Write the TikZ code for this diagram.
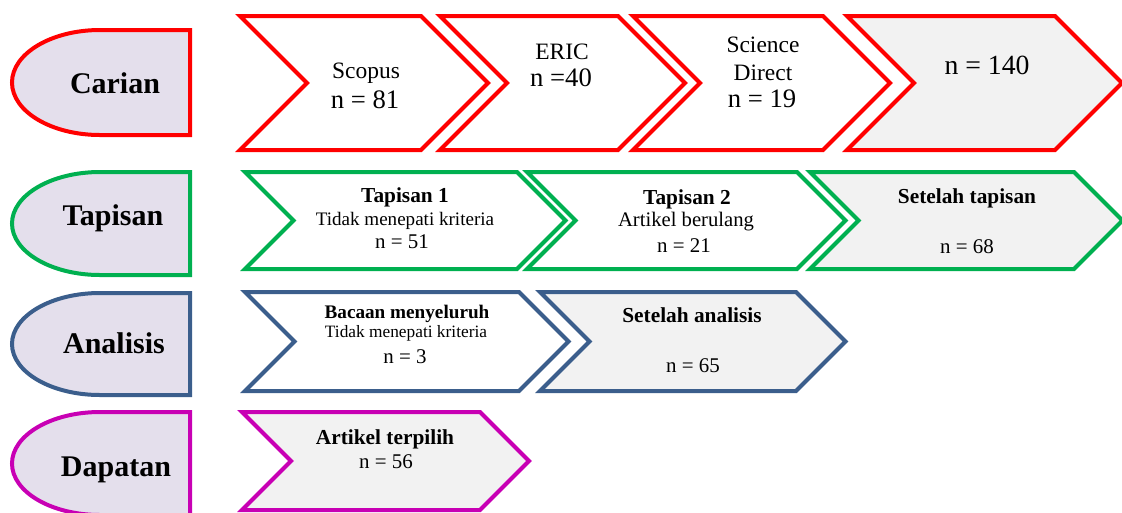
\documentclass[tikz,border=0pt]{standalone}
\usepackage{fontspec}
\setmainfont{Liberation Serif}
\definecolor{merah}{HTML}{FF0000}
\definecolor{hijau}{HTML}{00B050}
\definecolor{biru}{HTML}{3B5E8C}
\definecolor{ungu}{HTML}{C800B4}
\definecolor{lavender}{HTML}{E4DFEC}
\definecolor{kelabu}{HTML}{F2F2F2}
\newcommand{\fsz}[1]{\fontsize{#1}{#1}\selectfont}
\newcommand{\anak}[6]{%
  \pgfmathsetmacro\chd{(#4-#3)/2}
  \pgfmathsetmacro\chm{(#4+#3)/2}
  \draw[garis, draw=#5, fill=#6] (#1,#3) -- (#2,#3) -- (#2+\chd,\chm) -- (#2,#4) -- (#1,#4) -- (#1+\chd,\chm) -- cycle;}
\newcommand{\induk}[3]{%
  \pgfmathsetmacro\chr{(#2-#1)/2}
  \pgfmathsetmacro\chm{(#2+#1)/2}
  \draw[garis, draw=#3, fill=lavender] (190,#1) -- (100,#1) .. controls (51.4,#1) and (12,\chm-0.5523*\chr) .. (12,\chm) .. controls (12,\chm+0.5523*\chr) and (51.4,#2) .. (100,#2) -- (190,#2) -- cycle;}
\tikzset{
  garis/.style={line width=3pt, line join=miter},
  teks/.style={anchor=base, inner sep=0pt},
  tahap/.style={teks, font=\bfseries\fsz{22.5}},
  sumber/.style={teks, font=\fsz{17.6}},
  bil/.style={teks, font=\fsz{20}},
  tajuk/.style={teks, font=\bfseries\fsz{16}},
  ket/.style={teks, font=\fsz{14.3}},
  bilk/.style={teks, font=\fsz{15.7}}
}
\begin{document}
\begin{tikzpicture}[x=0.75pt, y=-0.75pt]
  \useasboundingbox (0,0) rectangle (1122,512);
  \foreach \T/\B/\w in {30/135/merah, 172/275/hijau, 293/395/biru, 412/515/ungu}
    \induk{\T}{\B}{\w};
  \foreach \L/\R/\T/\B/\w/\f in {240/421/16/150/merah/white, 440/618/16/150/merah/white,
      633/823/16/150/merah/white, 847/1055/16/150/merah/kelabu,
      245/517/172/269/hijau/white, 527/797/172/269/hijau/white, 810/1074/172/269/hijau/kelabu,
      245/519/292/391/biru/white, 540/796/292/391/biru/kelabu,
      242/480/412/510/ungu/kelabu}
    \anak{\L}{\R}{\T}{\B}{\w}{\f};

  \node[tahap] (carian) at (115,93) {Carian};
  \node[tahap] (tapisan) at (113,225) {Tapisan};
  \node[tahap] (analisis) at (114,353) {Analisis};
  \node[tahap] (dapatan) at (116,476) {Dapatan};

  \node[sumber] (scopus) at (366,78) {Scopus};
  \node[bil] (scopusn) at (365,108) {n = 81};
  \node[sumber] (eric) at (562,59) {ERIC};
  \node[bil] (ericn) at (561,86) {n =40};
  \node[sumber] (sd1) at (763,52) {Science};
  \node[sumber] (sd2) at (763,80) {Direct};
  \node[bil] (sdn) at (762,107) {n = 19};
  \node[bil, font=\fsz{20.8}] (jumlah) at (987,74) {n = 140};

  \node[tajuk] (tap1) at (405,202) {Tapisan 1};
  \node[ket] (tap1k) at (405,225) {Tidak menepati kriteria};
  \node[bilk] (tap1n) at (402,248) {n = 51};
  \node[tajuk] (tap2) at (687,204) {Tapisan 2};
  \node[ket, font=\fsz{15.5}] (tap2k) at (686,226) {Artikel berulang};
  \node[bilk] (tap2n) at (684,252) {n = 21};
  \node[tajuk] (setap) at (967,203) {Setelah tapisan};
  \node[bilk] (setapn) at (967,253) {n = 68};

  \node[tajuk, font=\bfseries\fsz{14.4}] (bacaan) at (407,318) {Bacaan menyeluruh};
  \node[ket, font=\fsz{13}] (bacaank) at (406,337) {Tidak menepati kriteria};
  \node[bilk] (bacaann) at (405,363) {n = 3};
  \node[tajuk] (seana) at (692,322) {Setelah analisis};
  \node[bilk] (seanan) at (693,372) {n = 65};

  \node[tajuk] (pilih) at (385,444) {Artikel terpilih};
  \node[bilk] (pilihn) at (386,468) {n = 56};
\end{tikzpicture}
\end{document}
